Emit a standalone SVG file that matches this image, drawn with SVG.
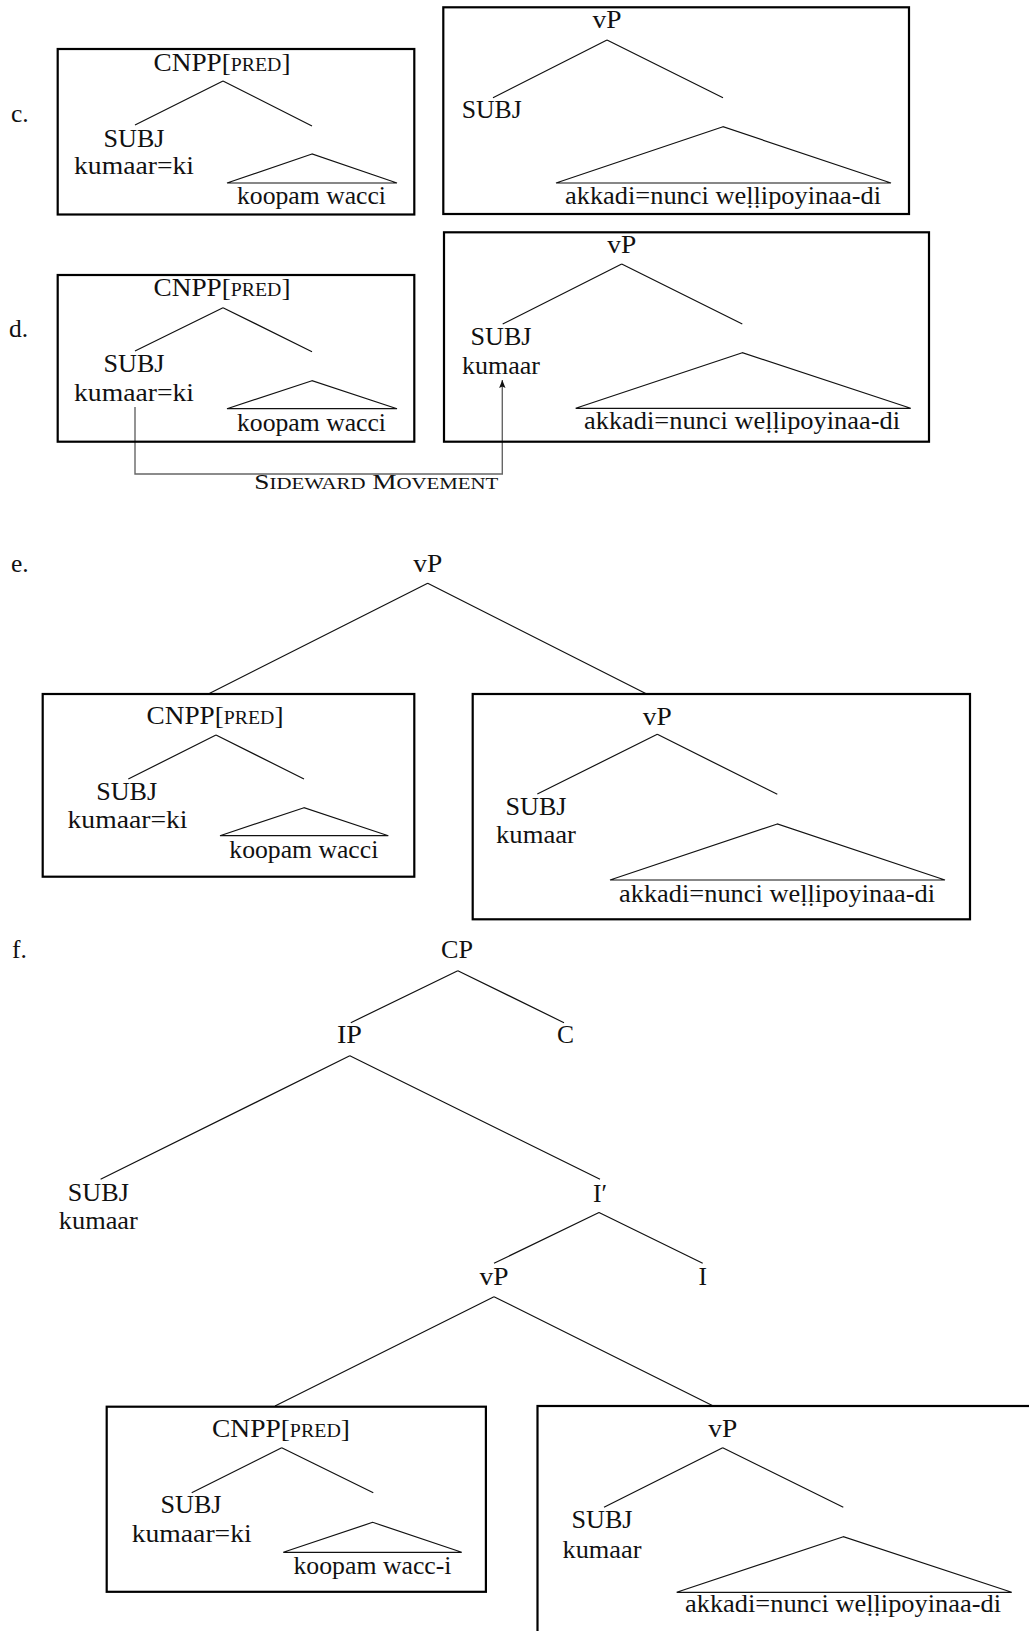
<svg xmlns="http://www.w3.org/2000/svg" width="1029" height="1631" viewBox="0 0 1029 1631">
<style>
text{font-family:"Liberation Serif","Times New Roman",serif;font-size:25.5px;fill:#111;text-anchor:middle}
text.lab{text-anchor:start}
.sc{font-size:18.5px}
.sm{font-size:21px}
.sm2{font-size:16px}
.box{fill:none;stroke:#000;stroke-width:2.2}
.br{fill:none;stroke:#111;stroke-width:1.2}
.tri{fill:none;stroke:#111;stroke-width:1.2;stroke-linejoin:miter}
.mv{fill:none;stroke:#666;stroke-width:1.4}
</style>
<defs>
<marker id="ah" viewBox="0 0 10 10" refX="10" refY="5" markerWidth="8" markerHeight="8" markerUnits="userSpaceOnUse" orient="auto">
<path d="M0,1 L10,5 L0,9 L2,5 Z" fill="#111"/>
</marker>
</defs>
<rect width="1029" height="1631" fill="#fff"/>

<!-- labels -->
<g id="label-c"><text class="lab" x="11" y="122">c.</text></g>
<g id="label-d"><text class="lab" x="9" y="337">d.</text></g>
<g id="label-e"><text class="lab" x="11" y="572">e.</text></g>
<g id="label-f"><text class="lab" x="12" y="958">f.</text></g>

<g id="connectors">
<!-- c -->
<path class="br" d="M223,81 L135,125 M223,81 L312,126"/>
<path class="br" d="M607,40 L493,97.7 M607,40 L723,97.7"/>
<!-- d -->
<path class="br" d="M223,307.7 L135,351 M223,307.7 L312,351.7"/>
<path class="br" d="M621.7,264 L502.7,324 M621.7,264 L742.3,324"/>
<path class="mv" d="M135,407 V474 H502.3 V380" marker-end="url(#ah)"/>
<!-- e -->
<path class="br" d="M427.7,583.3 L208.3,694 M427.7,583.3 L646.7,694"/>
<path class="br" d="M216,735 L128.3,779 M216,735 L304,779"/>
<path class="br" d="M657.3,734.3 L537.3,794 M657.3,734.3 L777.3,794.3"/>
<!-- f -->
<path class="br" d="M457.8,970.7 L350.8,1022.7 M457.8,970.7 L564,1022.7"/>
<path class="br" d="M349.8,1055.7 L100.6,1179.3 M349.8,1055.7 L600,1179.3"/>
<path class="br" d="M599,1212.5 L494,1263.3 M599,1212.5 L702.7,1263.3"/>
<path class="br" d="M494,1296.7 L275,1406 M494,1296.7 L713.3,1406"/>
<path class="br" d="M281.7,1447.7 L191.7,1492.7 M281.7,1447.7 L373.3,1492.7"/>
<path class="br" d="M722.7,1447.7 L604,1507.3 M722.7,1447.7 L843.3,1507.3"/>
</g>

<!-- ===== c ===== -->
<g id="c-cnpp">
<rect class="box" x="57.7" y="49" width="356.6" height="165.5"/>
<text x="222" y="71" textLength="137" lengthAdjust="spacingAndGlyphs">CNPP[<tspan class="sc">PRED</tspan>]</text>
</g>
<g id="c-cnpp-subj"><text x="134" y="147" textLength="61" lengthAdjust="spacingAndGlyphs">SUBJ</text><text x="134" y="174" textLength="120" lengthAdjust="spacingAndGlyphs">kumaar=ki</text></g>
<g id="c-cnpp-pred"><path class="tri" d="M312,154 L227,183 L397,183 Z"/><text x="311.5" y="204" textLength="149" lengthAdjust="spacingAndGlyphs">koopam wacci</text></g>
<g id="c-vp">
<rect class="box" x="443.3" y="7.3" width="465.7" height="206.7"/>
<text x="607" y="28" textLength="29" lengthAdjust="spacingAndGlyphs">vP</text>
</g>
<g id="c-vp-subj"><text x="491.7" y="118.3" textLength="60" lengthAdjust="spacingAndGlyphs">SUBJ</text></g>
<g id="c-vp-vbar"><path class="tri" d="M723,126.7 L556,183 L891,183 Z"/><text x="723" y="204.3" textLength="316" lengthAdjust="spacingAndGlyphs">akkadi=nunci weḷḷipoyinaa-di</text></g>

<!-- ===== d ===== -->
<g id="d-cnpp">
<rect class="box" x="57.7" y="275" width="356.6" height="166.7"/>
<text x="222" y="296" textLength="137" lengthAdjust="spacingAndGlyphs">CNPP[<tspan class="sc">PRED</tspan>]</text>
</g>
<g id="d-cnpp-subj"><text x="134" y="372.3" textLength="61" lengthAdjust="spacingAndGlyphs">SUBJ</text><text x="134" y="400.7" textLength="120" lengthAdjust="spacingAndGlyphs">kumaar=ki</text></g>
<g id="d-cnpp-pred"><path class="tri" d="M312,380.7 L227,408.7 L397,408.7 Z"/><text x="311.5" y="431" textLength="149" lengthAdjust="spacingAndGlyphs">koopam wacci</text></g>
<g id="d-vp">
<rect class="box" x="444" y="232.3" width="485" height="209.4"/>
<text x="621.7" y="253.3" textLength="29" lengthAdjust="spacingAndGlyphs">vP</text>
</g>
<g id="d-vp-subj"><text x="501" y="345" textLength="61" lengthAdjust="spacingAndGlyphs">SUBJ</text><text x="501" y="374" textLength="78" lengthAdjust="spacingAndGlyphs">kumaar</text></g>
<g id="d-vp-vbar"><path class="tri" d="M742.3,352.7 L575.7,408.3 L910.7,408.3 Z"/><text x="742" y="429" textLength="316" lengthAdjust="spacingAndGlyphs">akkadi=nunci weḷḷipoyinaa-di</text></g>
<g id="d-movement-label"><text class="sm" x="376.3" y="489" textLength="244" lengthAdjust="spacingAndGlyphs">S<tspan class="sm2">IDEWARD</tspan> M<tspan class="sm2">OVEMENT</tspan></text></g>

<!-- ===== e ===== -->
<g id="e-vp-root"><text x="427.7" y="571.7" textLength="29" lengthAdjust="spacingAndGlyphs">vP</text></g>
<g id="e-cnpp">
<rect class="box" x="42.7" y="694" width="371.6" height="182.7"/>
<text x="215" y="724.3" textLength="137" lengthAdjust="spacingAndGlyphs">CNPP[<tspan class="sc">PRED</tspan>]</text>
</g>
<g id="e-cnpp-subj"><text x="126.7" y="800" textLength="61" lengthAdjust="spacingAndGlyphs">SUBJ</text><text x="127.5" y="828.3" textLength="120" lengthAdjust="spacingAndGlyphs">kumaar=ki</text></g>
<g id="e-cnpp-pred"><path class="tri" d="M304,807.7 L220,835.7 L388.3,835.7 Z"/><text x="303.8" y="858.3" textLength="149" lengthAdjust="spacingAndGlyphs">koopam wacci</text></g>
<g id="e-vp">
<rect class="box" x="472.7" y="694" width="497.3" height="225.3"/>
<text x="657.3" y="725" textLength="29" lengthAdjust="spacingAndGlyphs">vP</text>
</g>
<g id="e-vp-subj"><text x="536" y="815" textLength="61" lengthAdjust="spacingAndGlyphs">SUBJ</text><text x="536" y="843.3" textLength="80" lengthAdjust="spacingAndGlyphs">kumaar</text></g>
<g id="e-vp-vbar"><path class="tri" d="M777.3,824 L610,880 L945,880 Z"/><text x="777" y="901.7" textLength="316" lengthAdjust="spacingAndGlyphs">akkadi=nunci weḷḷipoyinaa-di</text></g>

<!-- ===== f ===== -->
<g id="f-cp"><text x="457" y="958.3" textLength="32" lengthAdjust="spacingAndGlyphs">CP</text></g>
<g id="f-ip"><text x="349.4" y="1043.3" textLength="25" lengthAdjust="spacingAndGlyphs">IP</text></g>
<g id="f-c"><text x="565.4" y="1043.3">C</text></g>
<g id="f-subj"><text x="98.3" y="1200.7" textLength="61" lengthAdjust="spacingAndGlyphs">SUBJ</text><text x="98.3" y="1229" textLength="79" lengthAdjust="spacingAndGlyphs">kumaar</text></g>
<g id="f-ibar"><text x="600" y="1201.7">I′</text></g>
<g id="f-vp"><text x="494" y="1285" textLength="29" lengthAdjust="spacingAndGlyphs">vP</text></g>
<g id="f-i"><text x="702.7" y="1285">I</text></g>
<g id="f-cnpp">
<rect class="box" x="106.7" y="1406.7" width="379.2" height="185.1"/>
<text x="281" y="1436.7" textLength="138" lengthAdjust="spacingAndGlyphs">CNPP[<tspan class="sc">PRED</tspan>]</text>
</g>
<g id="f-cnpp-subj"><text x="191" y="1513.3" textLength="61" lengthAdjust="spacingAndGlyphs">SUBJ</text><text x="191.7" y="1541.7" textLength="120" lengthAdjust="spacingAndGlyphs">kumaar=ki</text></g>
<g id="f-cnpp-pred"><path class="tri" d="M372.7,1522.3 L283.3,1552.3 L461.7,1552.3 Z"/><text x="372.5" y="1574.3" textLength="158" lengthAdjust="spacingAndGlyphs">koopam wacc-i</text></g>
<g id="f-vp-box">
<rect class="box" x="537.5" y="1406" width="600" height="400"/>
<text x="722.7" y="1436.7" textLength="29" lengthAdjust="spacingAndGlyphs">vP</text>
</g>
<g id="f-vp-subj"><text x="602" y="1528.3" textLength="61" lengthAdjust="spacingAndGlyphs">SUBJ</text><text x="602" y="1557.7" textLength="79" lengthAdjust="spacingAndGlyphs">kumaar</text></g>
<g id="f-vp-vbar"><path class="tri" d="M843.3,1536.7 L676.7,1592.3 L1011.7,1592.3 Z"/><text x="843" y="1611.7" textLength="316" lengthAdjust="spacingAndGlyphs">akkadi=nunci weḷḷipoyinaa-di</text></g>
</svg>
